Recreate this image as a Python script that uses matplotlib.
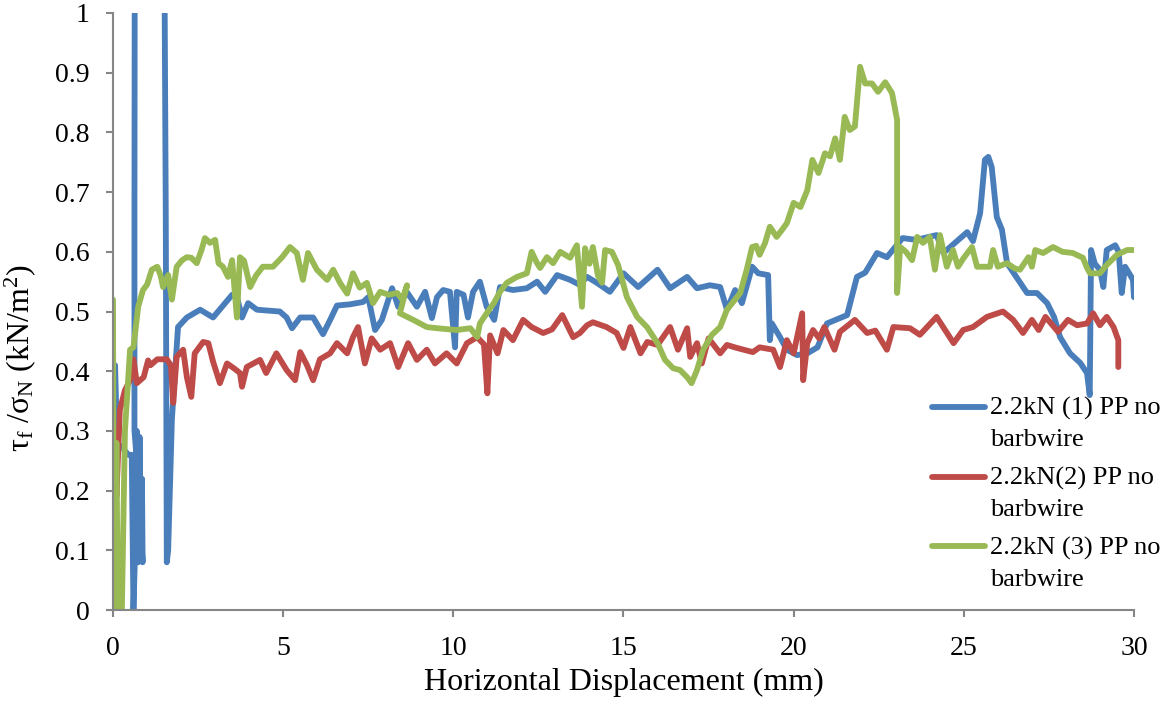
import matplotlib
matplotlib.use("Agg")
import matplotlib.pyplot as plt
import numpy as np

plt.rcParams['font.family'] = ['Liberation Serif', 'DejaVu Serif']
plt.rcParams['mathtext.fontset'] = 'custom'
plt.rcParams['mathtext.rm'] = 'Liberation Serif'
plt.rcParams['mathtext.it'] = 'Liberation Serif:italic'

# data
blue_x = [0.0, 0.06, 0.12, 0.3, 0.45, 0.55, 0.6, 0.65, 0.7, 0.74, 0.78, 0.82, 0.85, 0.87, 0.7, 0.63,
          0.63, 0.64, 1.5, 1.55, 1.58, 1.62, 1.73, 1.91, 2.17, 2.56, 2.94, 3.5, 3.64, 3.79, 3.97,
          4.23, 4.9, 5.1, 5.26, 5.5, 5.88, 6.17, 6.38, 6.58, 6.96, 7.35, 7.5, 7.7, 7.9, 8.2, 8.38,
          8.63, 8.93, 9.17, 9.37, 9.52, 9.7, 9.9, 10.05, 10.1, 10.3, 10.43, 10.58, 10.78, 10.98,
          11.2, 11.37, 11.75, 12.16, 12.46, 12.7, 13.05, 13.43, 13.7, 13.93, 14.22, 14.6, 15.0,
          15.43, 16.0, 16.37, 16.87, 17.16, 17.54, 17.84, 18.04, 18.28, 18.48, 18.78, 18.96, 19.25,
          19.3, 19.36, 19.6, 19.8, 20.1, 20.4, 20.7, 20.98, 21.57, 21.86, 22.1, 22.45, 22.74, 23.2,
          23.6, 24.2, 24.4, 25.1, 25.27, 25.48, 25.62, 25.72, 25.82, 25.97, 26.12, 26.27, 26.6,
          26.86, 27.15, 27.45, 27.65, 27.83, 28.12, 28.42, 28.62, 28.7, 28.74, 28.85, 29.0, 29.1,
          29.2, 29.45, 29.55, 29.64, 29.74, 29.9, 29.97, 30.0]
blue_y = [0.0, 0.41, 0.28, 0.27, 0.26, 0.26, 0.0, 0.1, 0.3, 0.08, 0.29, 0.1, 0.22, 0.08, 0.25, 0.3,
          0.68, 1.2, 1.2, 0.66, 0.08, 0.1, 0.32, 0.474, 0.49, 0.503, 0.49, 0.528, 0.525, 0.49, 0.514,
          0.503, 0.5, 0.49, 0.472, 0.49, 0.49, 0.462, 0.486, 0.51, 0.512, 0.516, 0.524, 0.469, 0.486,
          0.539, 0.508, 0.533, 0.508, 0.533, 0.489, 0.524, 0.536, 0.533, 0.44, 0.533, 0.528, 0.49,
          0.533, 0.55, 0.508, 0.486, 0.541, 0.536, 0.539, 0.55, 0.533, 0.561, 0.553, 0.545, 0.558,
          0.548, 0.533, 0.564, 0.541, 0.57, 0.539, 0.558, 0.539, 0.544, 0.541, 0.503, 0.536, 0.514,
          0.575, 0.564, 0.561, 0.452, 0.48, 0.457, 0.436, 0.427, 0.43, 0.44, 0.48, 0.494, 0.558,
          0.565, 0.598, 0.591, 0.623, 0.62, 0.628, 0.598, 0.633, 0.618, 0.665, 0.754, 0.759, 0.742,
          0.658, 0.637, 0.581, 0.553, 0.531, 0.531, 0.514, 0.491, 0.457, 0.43, 0.414, 0.397, 0.36,
          0.603, 0.58, 0.57, 0.541, 0.603, 0.611, 0.6, 0.531, 0.575, 0.56, 0.553, 0.524]

red_x = [0.05, 0.1, 0.2, 0.35, 0.5, 0.6, 0.7, 0.9, 1.03, 1.1, 1.3, 1.58, 1.7, 1.77, 1.87, 2.06,
         2.17, 2.3, 2.4, 2.65, 2.8, 2.94, 3.14, 3.35, 3.55, 3.73, 3.79, 3.93, 4.32, 4.5, 4.8, 5.1,
         5.35, 5.5, 5.7, 5.88, 6.08, 6.38, 6.58, 6.88, 7.05, 7.2, 7.4, 7.6, 7.85, 8.14, 8.38, 8.67,
         8.93, 9.22, 9.46, 9.8, 10.1, 10.4, 10.7, 10.9, 11.0, 11.08, 11.3, 11.47, 11.75, 12.05,
         12.3, 12.64, 12.9, 13.2, 13.52, 13.72, 13.93, 14.1, 14.5, 14.8, 15.0, 15.2, 15.5, 15.7,
         16.0, 16.37, 16.6, 16.87, 16.96, 17.16, 17.3, 17.5, 17.84, 18.04, 18.33, 18.8, 19.0, 19.4,
         19.6, 19.8, 20.0, 20.25, 20.28, 20.4, 20.57, 20.75, 20.9, 21.2, 21.36, 21.8, 22.16, 22.4,
         22.74, 22.93, 23.42, 23.71, 24.2, 24.7, 24.98, 25.27, 25.68, 26.15, 26.45, 26.74, 27.0,
         27.2, 27.4, 27.77, 28.06, 28.33, 28.62, 28.8, 29.0, 29.2, 29.4, 29.54, 29.54]
red_y = [0.3, 0.19, 0.335, 0.368, 0.385, 0.42, 0.38, 0.39, 0.418, 0.41, 0.42, 0.42, 0.41, 0.347,
         0.424, 0.436, 0.39, 0.357, 0.43, 0.449, 0.447, 0.416, 0.38, 0.413, 0.405, 0.397, 0.374,
         0.407, 0.419, 0.397, 0.43, 0.402, 0.385, 0.432, 0.41, 0.385, 0.42, 0.43, 0.447, 0.43,
         0.457, 0.474, 0.413, 0.455, 0.436, 0.447, 0.407, 0.447, 0.419, 0.436, 0.413, 0.43, 0.413,
         0.447, 0.457, 0.445, 0.363, 0.46, 0.43, 0.469, 0.452, 0.486, 0.474, 0.464, 0.47, 0.494,
         0.457, 0.464, 0.477, 0.482, 0.474, 0.464, 0.439, 0.474, 0.43, 0.449, 0.444, 0.474, 0.436,
         0.472, 0.424, 0.447, 0.413, 0.455, 0.43, 0.444, 0.439, 0.432, 0.44, 0.436, 0.407, 0.452,
         0.43, 0.497, 0.385, 0.447, 0.469, 0.455, 0.474, 0.436, 0.466, 0.486, 0.464, 0.468, 0.436,
         0.474, 0.472, 0.461, 0.491, 0.447, 0.469, 0.474, 0.491, 0.5, 0.486, 0.464, 0.486, 0.469,
         0.491, 0.466, 0.486, 0.477, 0.48, 0.497, 0.477, 0.491, 0.474, 0.452, 0.407]

green_x = [0.0, 0.02, 0.06, 0.1, 0.14, 0.26, 0.35, 0.5, 0.6, 0.74, 0.88, 1.0, 1.14, 1.3, 1.4, 1.47,
           1.62, 1.73, 1.87, 2.03, 2.17, 2.3, 2.46, 2.6, 2.7, 2.85, 3.0, 3.1, 3.23, 3.38, 3.5, 3.64,
           3.73, 3.85, 4.03, 4.2, 4.4, 4.7, 4.97, 5.2, 5.4, 5.58, 5.73, 5.99, 6.29, 6.47, 6.67, 6.88,
           7.05, 7.25, 7.46, 7.64, 7.85, 8.1, 8.35, 8.5, 8.64, 8.43, 8.82, 9.22, 9.52, 10.1, 10.5,
           10.7, 10.78, 10.98, 11.2, 11.37, 11.57, 11.87, 12.16, 12.3, 12.46, 12.55, 12.75, 12.93,
           13.14, 13.43, 13.63, 13.78, 13.87, 14.0, 14.1, 14.25, 14.37, 14.46, 14.66, 14.84, 15.1,
           15.4, 15.69, 16.0, 16.22, 16.46, 16.66, 16.87, 17.0, 17.16, 17.34, 17.6, 17.84, 18.04,
           18.28, 18.43, 18.62, 18.78, 18.9, 19.0, 19.16, 19.3, 19.5, 19.7, 19.8, 20.0, 20.2, 20.4,
           20.55, 20.73, 20.92, 21.07, 21.22, 21.36, 21.5, 21.65, 21.8, 21.95, 22.1, 22.3, 22.48,
           22.69, 22.89, 23.04, 23.04, 23.13, 23.3, 23.48, 23.63, 23.8, 24.0, 24.15, 24.3, 24.5,
           24.68, 24.83, 25.0, 25.24, 25.39, 25.77, 25.86, 26.0, 26.27, 26.5, 26.65, 26.9, 27.0,
           27.1, 27.33, 27.62, 27.9, 28.2, 28.5, 28.62, 28.71, 29.0, 29.2, 29.5, 29.8, 30.0]
green_y = [0.52, 0.0, 0.0, 0.28, 0.0, 0.0, 0.3, 0.436, 0.44, 0.508, 0.536, 0.545, 0.57, 0.575, 0.56,
           0.541, 0.561, 0.52, 0.575, 0.586, 0.591, 0.59, 0.581, 0.603, 0.623, 0.615, 0.62, 0.581,
           0.575, 0.558, 0.586, 0.49, 0.591, 0.585, 0.541, 0.56, 0.575, 0.575, 0.591, 0.608, 0.598,
           0.553, 0.598, 0.57, 0.553, 0.57, 0.548, 0.53, 0.564, 0.54, 0.548, 0.514, 0.533, 0.528,
           0.531, 0.52, 0.544, 0.497, 0.486, 0.474, 0.472, 0.469, 0.472, 0.457, 0.48, 0.497, 0.515,
           0.533, 0.548, 0.558, 0.564, 0.6, 0.581, 0.573, 0.591, 0.581, 0.6, 0.59, 0.611, 0.508,
           0.606, 0.58, 0.608, 0.56, 0.548, 0.603, 0.6, 0.578, 0.524, 0.491, 0.474, 0.447, 0.419,
           0.405, 0.402, 0.39, 0.38, 0.402, 0.436, 0.461, 0.474, 0.503, 0.52, 0.531, 0.57, 0.608,
           0.61, 0.595, 0.615, 0.642, 0.625, 0.64, 0.648, 0.682, 0.675, 0.703, 0.754, 0.732, 0.765,
           0.76, 0.79, 0.754, 0.826, 0.804, 0.81, 0.91, 0.882, 0.882, 0.868, 0.884, 0.866, 0.821,
           0.531, 0.608, 0.6, 0.586, 0.625, 0.615, 0.625, 0.57, 0.628, 0.575, 0.603, 0.575, 0.59,
           0.608, 0.575, 0.575, 0.603, 0.575, 0.581, 0.572, 0.57, 0.591, 0.575, 0.603, 0.598, 0.608,
           0.6, 0.598, 0.59, 0.573, 0.564, 0.564, 0.578, 0.595, 0.603, 0.603]

labels = ['2.2kN (1) PP no\nbarbwire', '2.2kN(2) PP no\nbarbwire', '2.2kN (3) PP no\nbarbwire']
colors = ['#4A7EBB', '#BE4B48', '#98B954']

fig = plt.figure(figsize=(11.64, 7.02), dpi=100)
ax = fig.add_axes([0.0971, 0.131, 0.8771, 0.8505])

for xs, ys, c, lab in zip([blue_x, red_x, green_x], [blue_y, red_y, green_y], colors, labels):
    ax.plot(xs, ys, color=c, lw=4.2, label=lab, solid_joinstyle='round', solid_capstyle='round')

ax.set_xlim(0, 30)
ax.set_ylim(0, 1)
ax.set_xticks(range(0, 31, 5))
ax.set_yticks([i / 10 for i in range(11)])
ax.set_yticklabels(['0', '0.1', '0.2', '0.3', '0.4', '0.5', '0.6', '0.7', '0.8', '0.9', '1'])

for s in ['top', 'right']:
    ax.spines[s].set_visible(False)
for s in ['left', 'bottom']:
    ax.spines[s].set_color('#868686')
    ax.spines[s].set_linewidth(1.5)
ax.tick_params(axis='both', direction='out', length=5, width=1.5, color='#868686', labelsize=20)
ax.tick_params(axis='x', pad=14)
ax.tick_params(axis='y', pad=12)

ax.set_xlabel('Horizontal Displacement (mm)', fontsize=23, labelpad=5)
ax.set_ylabel(r'τ$_\mathrm{f}$ /σ$_\mathrm{N}$ (kN/m$^2$)', fontsize=23)
ax.yaxis.set_label_coords(-0.0735, 0.422)

leg = fig.legend(loc='upper left', bbox_to_anchor=(0.8007, 0.434), frameon=False, fontsize=19,
                 handlelength=2.0, handletextpad=0.2, labelspacing=0.6, borderpad=0,
                 borderaxespad=0)
for t in leg.get_texts():
    t.set_linespacing(1.52)
# put each legend line beside the first line of its label
for ln in leg.get_lines():
    ln.set_ydata(np.asarray(ln.get_ydata()) + 12)

fig.savefig('out.png', dpi=100)
